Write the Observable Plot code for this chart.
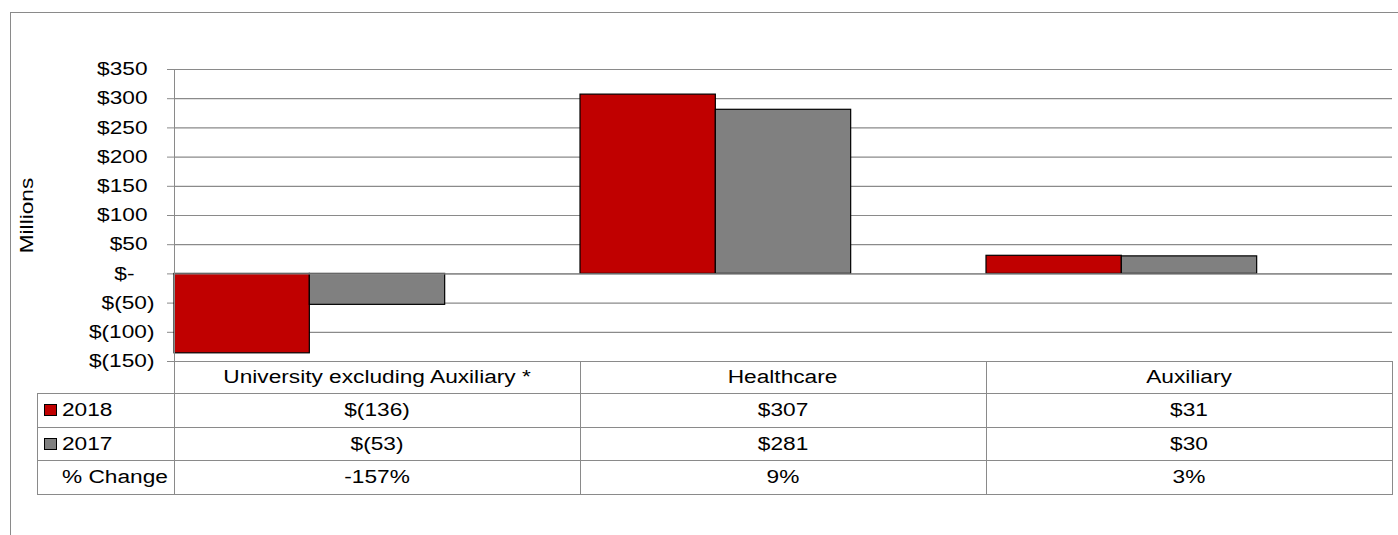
<!DOCTYPE html>
<html>
<head>
<meta charset="utf-8">
<script src="https://cdn.jsdelivr.net/npm/d3@7"></script>
<script src="https://cdn.jsdelivr.net/npm/@observablehq/plot@0.6"></script>
<style>
  html, body { margin: 0; padding: 0; background: #fff; }
  #chart { position: relative; width: 1398px; height: 535px; overflow: hidden;
           font-family: "Liberation Sans", Arial, sans-serif; font-size: 18px; color: #000; }
  #chart svg { position: absolute; left: 0; top: 0; overflow: visible; }
  .cell { position: absolute; box-sizing: border-box; border: 0 solid #8a8a8a;
          display: flex; align-items: center; justify-content: center; white-space: nowrap; }
  .cell span { display: inline-block; transform: scaleX(1.26); }
  .cell.leg { justify-content: flex-start; }
  .cell.leg span { transform-origin: left center; }
  .key { position: absolute; box-sizing: border-box; border: 1px solid #000; }
  .line { position: absolute; box-sizing: border-box; }
</style>
</head>
<body>
<div id="chart"></div>
<script>
const categories = ["University excluding Auxiliary *", "Healthcare", "Auxiliary"];
const years = ["2018", "2017"];
const values2018 = [-136, 307, 31];
const values2017 = [-53, 281, 30];
const pctChange = ["-157%", "9%", "3%"];
const yTicks = [350, 300, 250, 200, 150, 100, 50, 0, -50, -100, -150];
const axisLabel = "Millions";
const rowLabels = ["2018", "2017", "% Change"];
const colors = ["#C00000", "#808080"];

const gray = "#8a8a8a";
const sx = 1.26;
const money = v => v === 0 ? "$-" : v < 0 ? `$(${-v})` : `$${v}`;

const rows = categories.flatMap((c, i) => [
  {category: c, year: years[0], value: values2018[i]},
  {category: c, year: years[1], value: values2017[i]}
]);

const plot = Plot.plot({
  width: 1398,
  height: 362,
  marginTop: 69,
  marginBottom: 1,
  marginLeft: 174,
  marginRight: 6,
  fx: {type: "band", domain: categories, padding: 0, axis: null, round: false, label: null},
  x: {type: "band", domain: years, paddingInner: 0, paddingOuter: 0.5, align: 0, axis: null, round: false},
  y: {type: "linear", domain: [-150, 350], axis: null},
  color: {type: "ordinal", domain: years, range: colors},
  style: {fontFamily: "'Liberation Sans', Arial, sans-serif", fontSize: "18px", color: "#000", background: "transparent"},
  marks: [
    Plot.gridY(yTicks, {stroke: gray, strokeOpacity: 1, strokeWidth: 1.2}),
    Plot.axisY(yTicks.filter(v => v > 0), {tickSize: 7, tickPadding: 20, tickFormat: money, stroke: gray, strokeOpacity: 1, fill: "#000", label: null}),
    Plot.axisY(yTicks.filter(v => v < 0), {tickSize: 7, tickPadding: 13, tickFormat: money, stroke: gray, strokeOpacity: 1, fill: "#000", label: null}),
    Plot.axisY(yTicks.filter(v => v === 0), {tickSize: 7, tickPadding: 33, tickFormat: money, stroke: gray, strokeOpacity: 1, fill: "#000", label: null}),
    Plot.barY(rows, {fx: "category", x: "year", y: "value", fill: "year", stroke: "#000", strokeWidth: 1.2}),
    Plot.ruleY([0], {stroke: gray, strokeWidth: 1.2}),
    Plot.text([categories[0]], {fx: d => d, text: () => axisLabel, frameAnchor: "left", textAnchor: "middle", lineAnchor: "middle", rotate: -90, dx: -147, fill: "#000"})
  ]
});

// stretch text along its own baseline (wide glyphs like the reference)
plot.querySelectorAll("text").forEach(t => {
  const tr = t.getAttribute("transform") || "";
  t.setAttribute("transform", (tr + ` scale(${sx},1)`).trim());
});

const chart = document.getElementById("chart");

// outer chart-area border
const outer = document.createElement("div");
outer.className = "line";
Object.assign(outer.style, {left: "10px", top: "12px", width: "1400px", height: "540px",
  borderTop: `1px solid ${gray}`, borderLeft: `1px solid ${gray}`});
chart.appendChild(outer);

chart.appendChild(plot);

// geometry from the plot's scales
const fxs = plot.scale("fx");
const ys = plot.scale("y");
const x0 = fxs.range[0], x1 = fxs.range[1];
const step = fxs.step || (x1 - x0) / categories.length;
const yTop = Math.min(...ys.range);
const yBot = Math.max(...ys.range);

// vertical value-axis line
const vline = document.createElement("div");
vline.className = "line";
Object.assign(vline.style, {left: (x0 - 0.5) + "px", top: yTop + "px", height: (yBot - yTop) + "px",
  width: "1px", borderLeft: `1.2px solid ${gray}`});
chart.appendChild(vline);

// data table
const colX = [37, ...categories.map((_, i) => x0 + i * step), x1];
const rowY = [yBot, yBot + 32, yBot + 66, yBot + 99, yBot + 133];
const table = [
  ["", ...categories],
  [rowLabels[0], ...values2018.map(money)],
  [rowLabels[1], ...values2017.map(money)],
  [rowLabels[2], ...pctChange]
];
table.forEach((row, r) => {
  row.forEach((txt, c) => {
    if (r === 0 && c === 0) return;
    const d = document.createElement("div");
    d.className = "cell" + (c === 0 ? " leg" : "");
    const left = colX[c] - 0.5, right = colX[c + 1] - 0.5;
    Object.assign(d.style, {
      left: left + "px", top: rowY[r] + "px",
      width: (right - left + (c === row.length - 1 ? 1 : 0)) + "px",
      height: (rowY[r + 1] - rowY[r] + (r === table.length - 1 ? 1 : 0)) + "px",
      borderLeftWidth: "1px",
      borderTopWidth: r === 0 ? "0" : "1px",
      borderRightWidth: c === row.length - 1 ? "1px" : "0",
      borderBottomWidth: r === table.length - 1 ? "1px" : "0"
    });
    if (c === 0) d.style.paddingLeft = "24px";
    const s = document.createElement("span");
    s.textContent = txt;
    d.appendChild(s);
    chart.appendChild(d);
    if (c === 0 && r >= 1 && r <= 2) {
      const k = document.createElement("div");
      k.className = "key";
      Object.assign(k.style, {left: (colX[0] + 7) + "px", top: (rowY[r] + 11) + "px",
        width: "13px", height: "12px", background: colors[r - 1]});
      chart.appendChild(k);
    }
  });
});
</script>
</body>
</html>
